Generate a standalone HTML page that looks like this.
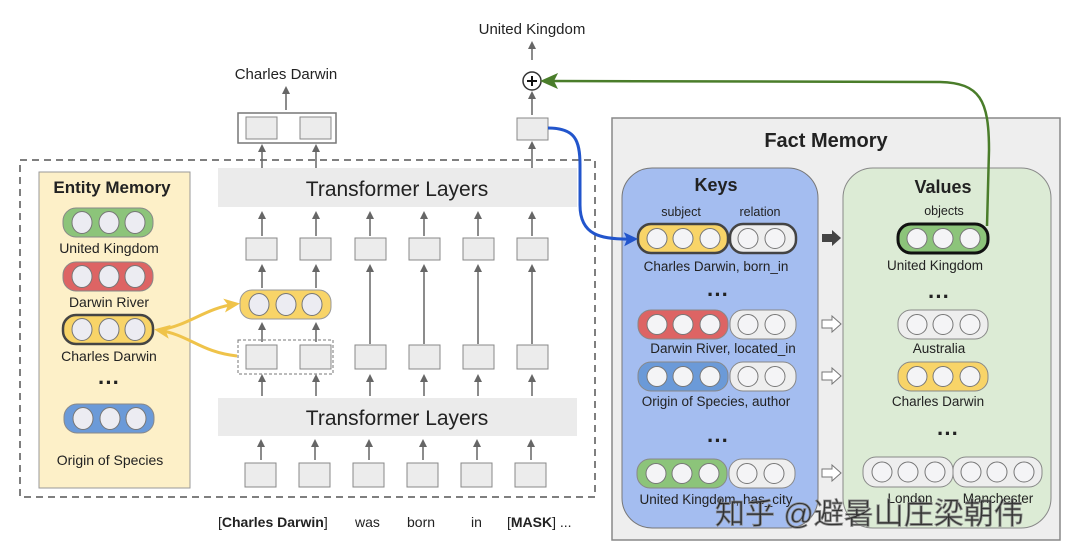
<!DOCTYPE html>
<html><head><meta charset="utf-8"><style>
html,body{margin:0;padding:0;background:#fff}
svg{display:block}
text{font-family:"Liberation Sans",Arial,sans-serif;fill:#222}
</style></head><body>
<svg width="1080" height="560" viewBox="0 0 1080 560" xmlns="http://www.w3.org/2000/svg">
<defs>
<marker id="ag" markerWidth="8" markerHeight="8" refX="4" refY="4" orient="auto" markerUnits="userSpaceOnUse"><path d="M0,0 L8,4 L0,8 z" fill="#666"/></marker>
<marker id="ab" markerWidth="14" markerHeight="14" refX="10" refY="7" orient="auto" markerUnits="userSpaceOnUse"><path d="M0,0 L14,7 L0,14 L3,7 z" fill="#2255cc"/></marker>
<marker id="agr" markerWidth="18" markerHeight="16" refX="12" refY="8" orient="auto" markerUnits="userSpaceOnUse"><path d="M0,0 L18,8 L0,16 L4,8 z" fill="#4a7d2a"/></marker>
<marker id="ay" markerWidth="16" markerHeight="14" refX="12" refY="7" orient="auto" markerUnits="userSpaceOnUse"><path d="M0,0 L16,7 L0,14 L4,7 z" fill="#efc34a"/></marker>
</defs>

<!-- top labels -->
<text x="532" y="34" font-size="15" text-anchor="middle">United Kingdom</text>
<text x="286" y="79" font-size="15" text-anchor="middle">Charles Darwin</text>
<line x1="532" y1="60" x2="532" y2="45" stroke="#666" stroke-width="1.5" marker-end="url(#ag)"/>
<circle cx="532" cy="81" r="9" fill="#fff" stroke="#333" stroke-width="1.5"/>
<path d="M527 81 H537 M532 76 V86" stroke="#111" stroke-width="2"/>
<line x1="532" y1="115" x2="532" y2="95" stroke="#666" stroke-width="1.5" marker-end="url(#ag)"/>
<line x1="286" y1="110" x2="286" y2="90" stroke="#666" stroke-width="1.5" marker-end="url(#ag)"/>
<rect x="238" y="113" width="98" height="30" fill="#fff" stroke="#777" stroke-width="1.5"/>
<rect x="246" y="117" width="31" height="22" fill="#ececec" stroke="#888"/>
<rect x="300" y="117" width="31" height="22" fill="#ececec" stroke="#888"/>
<rect x="517" y="118" width="31" height="22" fill="#ececec" stroke="#888"/>

<!-- dashed box -->
<rect x="20" y="160" width="575" height="337" fill="none" stroke="#555" stroke-width="1.5" stroke-dasharray="7,5"/>
<!-- arrows above transformer top -->
<g stroke="#666" stroke-width="1.5">
<line x1="262" y1="168" x2="262" y2="148" marker-end="url(#ag)"/>
<line x1="316" y1="168" x2="316" y2="148" marker-end="url(#ag)"/>
<line x1="532" y1="168" x2="532" y2="145" marker-end="url(#ag)"/>
</g>
<rect x="218" y="168" width="359" height="39" fill="#ebebeb"/>
<text x="397" y="196" font-size="21" text-anchor="middle">Transformer Layers</text>
<rect x="218" y="398" width="359" height="38" fill="#ebebeb"/>
<text x="397" y="425" font-size="21" text-anchor="middle">Transformer Layers</text>

<!-- columns -->
<g stroke="#666" stroke-width="1.5" fill="none">
<line x1="262" y1="236" x2="262" y2="215" marker-end="url(#ag)"/>
<line x1="316" y1="236" x2="316" y2="215" marker-end="url(#ag)"/>
<line x1="370" y1="236" x2="370" y2="215" marker-end="url(#ag)"/>
<line x1="424" y1="236" x2="424" y2="215" marker-end="url(#ag)"/>
<line x1="478" y1="236" x2="478" y2="215" marker-end="url(#ag)"/>
<line x1="532" y1="236" x2="532" y2="215" marker-end="url(#ag)"/>
<line x1="262" y1="288" x2="262" y2="268" marker-end="url(#ag)"/>
<line x1="316" y1="288" x2="316" y2="268" marker-end="url(#ag)"/>
<line x1="262" y1="342" x2="262" y2="326" marker-end="url(#ag)"/>
<line x1="316" y1="342" x2="316" y2="326" marker-end="url(#ag)"/>
<line x1="370" y1="344" x2="370" y2="268" marker-end="url(#ag)"/>
<line x1="424" y1="344" x2="424" y2="268" marker-end="url(#ag)"/>
<line x1="478" y1="344" x2="478" y2="268" marker-end="url(#ag)"/>
<line x1="532" y1="344" x2="532" y2="268" marker-end="url(#ag)"/>
<line x1="262" y1="396" x2="262" y2="378" marker-end="url(#ag)"/>
<line x1="316" y1="396" x2="316" y2="378" marker-end="url(#ag)"/>
<line x1="370" y1="396" x2="370" y2="378" marker-end="url(#ag)"/>
<line x1="424" y1="396" x2="424" y2="378" marker-end="url(#ag)"/>
<line x1="478" y1="396" x2="478" y2="378" marker-end="url(#ag)"/>
<line x1="532" y1="396" x2="532" y2="378" marker-end="url(#ag)"/>
<line x1="261" y1="460" x2="261" y2="443" marker-end="url(#ag)"/>
<line x1="315" y1="460" x2="315" y2="443" marker-end="url(#ag)"/>
<line x1="369" y1="460" x2="369" y2="443" marker-end="url(#ag)"/>
<line x1="423" y1="460" x2="423" y2="443" marker-end="url(#ag)"/>
<line x1="477" y1="460" x2="477" y2="443" marker-end="url(#ag)"/>
<line x1="531" y1="460" x2="531" y2="443" marker-end="url(#ag)"/>
</g>
<g fill="#ececec" stroke="#888">
<rect x="246" y="238" width="31" height="22"/><rect x="300" y="238" width="31" height="22"/>
<rect x="355" y="238" width="31" height="22"/><rect x="409" y="238" width="31" height="22"/>
<rect x="463" y="238" width="31" height="22"/><rect x="517" y="238" width="31" height="22"/>
<rect x="246" y="345" width="31" height="24"/><rect x="300" y="345" width="31" height="24"/>
<rect x="355" y="345" width="31" height="24"/><rect x="409" y="345" width="31" height="24"/>
<rect x="463" y="345" width="31" height="24"/><rect x="517" y="345" width="31" height="24"/>
<rect x="245" y="463" width="31" height="24"/><rect x="299" y="463" width="31" height="24"/>
<rect x="353" y="463" width="31" height="24"/><rect x="407" y="463" width="31" height="24"/>
<rect x="461" y="463" width="31" height="24"/><rect x="515" y="463" width="31" height="24"/>
</g>
<rect x="238" y="340" width="95" height="34" fill="none" stroke="#777" stroke-dasharray="3,2"/>
<!-- middle yellow pill -->
<rect x="240" y="290" width="91" height="29" rx="12" fill="#f8d468" stroke="#999"/>
<g fill="#ececf2" stroke="#777"><ellipse cx="259" cy="304.5" rx="10" ry="11"/><ellipse cx="286" cy="304.5" rx="10" ry="11"/><ellipse cx="312" cy="304.5" rx="10" ry="11"/></g>

<!-- bottom sentence -->
<text x="218" y="527" font-size="14">[<tspan font-weight="bold">Charles Darwin</tspan>]</text>
<text x="355" y="527" font-size="14">was</text>
<text x="407" y="527" font-size="14">born</text>
<text x="471" y="527" font-size="14">in</text>
<text x="507" y="527" font-size="14">[<tspan font-weight="bold">MASK</tspan>] ...</text>

<!-- Entity memory -->
<rect x="39" y="172" width="151" height="316" fill="#fdf0c8" stroke="#999"/>
<text x="112" y="193" font-size="17" font-weight="bold" text-anchor="middle">Entity Memory</text>
<g>
<rect x="63" y="208" width="90" height="29" rx="13" fill="#8cc47a" stroke="#888"/>
<rect x="63" y="262" width="90" height="29" rx="13" fill="#dd6464" stroke="#888"/>
<rect x="63" y="315" width="90" height="29" rx="13" fill="#f8d468" stroke="#444" stroke-width="2.5"/>
<rect x="64" y="404" width="90" height="29" rx="13" fill="#6b9ad8" stroke="#888"/>
<g fill="#ececf2" stroke="#777">
<ellipse cx="82" cy="222.5" rx="10" ry="11"/><ellipse cx="109" cy="222.5" rx="10" ry="11"/><ellipse cx="135" cy="222.5" rx="10" ry="11"/>
<ellipse cx="82" cy="276.5" rx="10" ry="11"/><ellipse cx="109" cy="276.5" rx="10" ry="11"/><ellipse cx="135" cy="276.5" rx="10" ry="11"/>
<ellipse cx="82" cy="329.5" rx="10" ry="11"/><ellipse cx="109" cy="329.5" rx="10" ry="11"/><ellipse cx="135" cy="329.5" rx="10" ry="11"/>
<ellipse cx="83" cy="418.5" rx="10" ry="11"/><ellipse cx="110" cy="418.5" rx="10" ry="11"/><ellipse cx="136" cy="418.5" rx="10" ry="11"/>
</g>
</g>
<text x="109" y="253" font-size="14" text-anchor="middle">United Kingdom</text>
<text x="109" y="307" font-size="14" text-anchor="middle">Darwin River</text>
<text x="109" y="361" font-size="14" text-anchor="middle">Charles Darwin</text>
<text x="109" y="390" font-size="22" font-weight="bold" text-anchor="middle">···</text>
<text x="110" y="465" font-size="14" text-anchor="middle">Origin of Species</text>

<!-- yellow arrows -->
<path d="M237 356 C200 352 190 335 158 330" stroke="#efc34a" stroke-width="3" fill="none" marker-end="url(#ay)"/>
<path d="M160 330 C190 325 205 308 236 304" stroke="#efc34a" stroke-width="3" fill="none" marker-end="url(#ay)"/>

<!-- Fact memory -->
<rect x="612" y="118" width="448" height="422" fill="#eeeeee" stroke="#888" stroke-width="1.5"/>
<text x="826" y="147" font-size="20" font-weight="bold" text-anchor="middle">Fact Memory</text>
<rect x="622" y="168" width="196" height="360" rx="30" fill="#a4bdf0" stroke="#777"/>
<rect x="843" y="168" width="208" height="360" rx="30" fill="#dcebd5" stroke="#888"/>
<text x="716" y="191" font-size="18" font-weight="bold" text-anchor="middle">Keys</text>
<text x="943" y="193" font-size="18" font-weight="bold" text-anchor="middle">Values</text>
<text x="681" y="216" font-size="12.5" text-anchor="middle">subject</text>
<text x="760" y="216" font-size="12.5" text-anchor="middle">relation</text>
<text x="944" y="215" font-size="12.5" text-anchor="middle">objects</text>

<!-- key pills -->
<rect x="638" y="224" width="90" height="29" rx="13" fill="#f8d468" stroke="#444" stroke-width="2.5"/>
<rect x="730" y="224" width="66" height="29" rx="13" fill="#eeeeee" stroke="#444" stroke-width="2.5"/>
<rect x="638" y="310" width="90" height="29" rx="13" fill="#dd6464" stroke="#888"/>
<rect x="730" y="310" width="66" height="29" rx="13" fill="#eeeeee" stroke="#888"/>
<rect x="638" y="362" width="90" height="29" rx="13" fill="#6b9ad8" stroke="#888"/>
<rect x="730" y="362" width="66" height="29" rx="13" fill="#eeeeee" stroke="#888"/>
<rect x="637" y="459" width="90" height="29" rx="13" fill="#8cc47a" stroke="#888"/>
<rect x="729" y="459" width="66" height="29" rx="13" fill="#eeeeee" stroke="#888"/>
<!-- value pills -->
<rect x="898" y="224" width="90" height="29" rx="13" fill="#8cc47a" stroke="#111" stroke-width="3"/>
<rect x="898" y="310" width="90" height="29" rx="13" fill="#eeeeee" stroke="#888"/>
<rect x="898" y="362" width="90" height="29" rx="13" fill="#f8d468" stroke="#888"/>
<rect x="863" y="457" width="90" height="30" rx="13" fill="#eeeeee" stroke="#888"/>
<rect x="953" y="457" width="89" height="30" rx="13" fill="#eeeeee" stroke="#888"/>
<g fill="#f4f4f6" stroke="#777">
<circle cx="657" cy="238.5" r="10"/><circle cx="683" cy="238.5" r="10"/><circle cx="710" cy="238.5" r="10"/><circle cx="748" cy="238.5" r="10"/><circle cx="775" cy="238.5" r="10"/>
<circle cx="657" cy="324.5" r="10"/><circle cx="683" cy="324.5" r="10"/><circle cx="710" cy="324.5" r="10"/><circle cx="748" cy="324.5" r="10"/><circle cx="775" cy="324.5" r="10"/>
<circle cx="657" cy="376.5" r="10"/><circle cx="683" cy="376.5" r="10"/><circle cx="710" cy="376.5" r="10"/><circle cx="748" cy="376.5" r="10"/><circle cx="775" cy="376.5" r="10"/>
<circle cx="656" cy="473.5" r="10"/><circle cx="682" cy="473.5" r="10"/><circle cx="709" cy="473.5" r="10"/><circle cx="747" cy="473.5" r="10"/><circle cx="774" cy="473.5" r="10"/>
<circle cx="917" cy="238.5" r="10"/><circle cx="943" cy="238.5" r="10"/><circle cx="970" cy="238.5" r="10"/>
<circle cx="917" cy="324.5" r="10"/><circle cx="943" cy="324.5" r="10"/><circle cx="970" cy="324.5" r="10"/>
<circle cx="917" cy="376.5" r="10"/><circle cx="943" cy="376.5" r="10"/><circle cx="970" cy="376.5" r="10"/>
<circle cx="882" cy="472" r="10"/><circle cx="908" cy="472" r="10"/><circle cx="935" cy="472" r="10"/>
<circle cx="971" cy="472" r="10"/><circle cx="997" cy="472" r="10"/><circle cx="1024" cy="472" r="10"/>
</g>
<g font-size="13.5" text-anchor="middle">
<text x="716" y="271">Charles Darwin,  born_in</text>
<text x="723" y="353">Darwin River,  located_in</text>
<text x="716" y="406">Origin of Species,  author</text>
<text x="716" y="504">United Kingdom, has_city</text>
<text x="935" y="270">United Kingdom</text>
<text x="939" y="353">Australia</text>
<text x="938" y="406">Charles Darwin</text>
<text x="910" y="503">London</text>
<text x="998" y="503">Manchester</text>
</g>
<g font-size="22" font-weight="bold" text-anchor="middle">
<text x="718" y="302">···</text><text x="718" y="448">···</text>
<text x="939" y="304">···</text><text x="948" y="441">···</text>
</g>
<!-- arrows between -->
<path d="M822 234 H832 V230 L841 238 L832 246 V242 H822 z" fill="#444"/>
<g fill="#fff" stroke="#777">
<path d="M822 320 H832 V316 L841 324 L832 332 V328 H822 z"/>
<path d="M822 372 H832 V368 L841 376 L832 384 V380 H822 z"/>
<path d="M822 469 H832 V465 L841 473 L832 481 V477 H822 z"/>
</g>

<!-- blue curve -->
<path d="M548 128 C575 128 580 140 580 165 L580 205 C580 235 600 240 634 239" stroke="#2255cc" stroke-width="3" fill="none" marker-end="url(#ab)"/>
<!-- green curve -->
<path d="M987 226 L989 150 C989 100 980 83 940 82 L546 81" stroke="#4a7d2a" stroke-width="2.5" fill="none" marker-end="url(#agr)"/>

<!-- watermark -->
<text x="715" y="524" font-size="30" font-family="'Noto Sans CJK SC',sans-serif" fill="#fff" stroke="#888" stroke-width="0.8" opacity="0.9" style="font-family:'Liberation Sans','Noto Sans CJK SC',sans-serif">知乎 @避暑山庄梁朝伟</text>
</svg>
</body></html>
